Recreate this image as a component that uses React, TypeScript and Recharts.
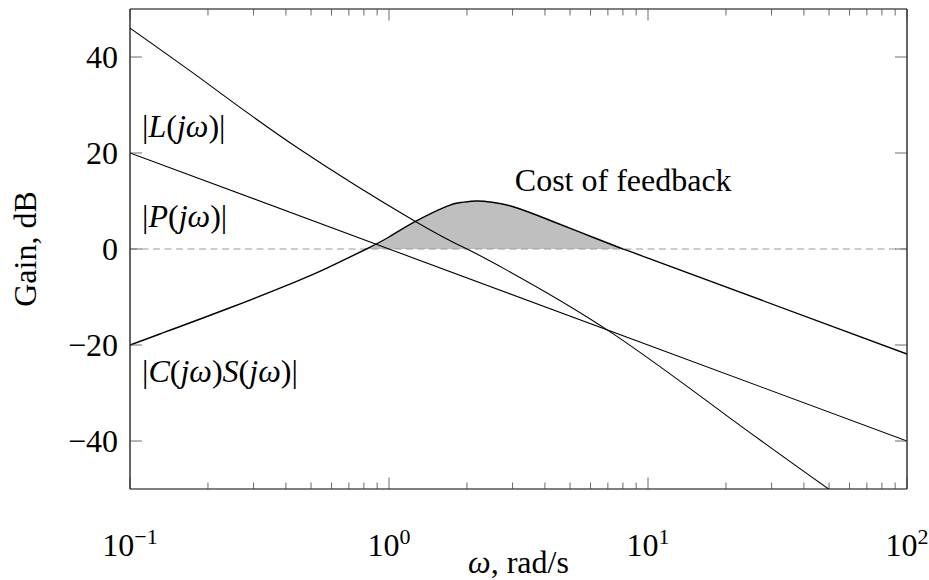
import React from 'react';
import { ComposedChart, Line, Area, XAxis, YAxis, ReferenceLine, ReferenceDot } from 'recharts';

const FONT = '"Liberation Serif", "DejaVu Serif", serif';
const FS = 32;

// frequency in rad/s, gain in dB
const omegaL = [0.1, 0.2, 0.446, 1.26, 2.0, 2.85, 7.03, 20, 50.4];
const gainL = [46, 34.4, 21, 5.8, 0, -4.4, -17, -34.6, -50.2];

const omegaP = [0.1, 1, 10, 100];
const gainP = [20, 0, -20, -40];

const omegaCS = [0.1, 0.132, 0.239, 0.433, 0.581, 0.818, 1.0, 1.26, 1.67, 1.9, 2.18, 2.5, 3.02, 4.06, 5.46, 8.0, 10, 100];
const gainCS = [-20, -17.6, -12.4, -6.9, -3.9, 0, 2.5, 5.7, 8.9, 9.7, 10.0, 9.75, 8.8, 6.25, 3.5, 0, -1.9, -21.9];

const decadeTicks = [0.1, 1, 10, 100];
const decadeExp = ['\u22121', '0', '1', '2'];
const minorTicks = [0.2, 0.3, 0.4, 0.5, 0.6, 0.7, 0.8, 0.9, 2, 3, 4, 5, 6, 7, 8, 9, 20, 30, 40, 50, 60, 70, 80, 90];
const gainTicks = [-40, -20, 0, 20, 40];

// merge the three curves into one table keyed by omega
const rows = new Map<number, any>();
const put = (w: number, key: string, v: number) => {
  const r = rows.get(w) ?? { w };
  r[key] = v;
  rows.set(w, r);
};
omegaL.forEach((w, i) => put(w, 'L', gainL[i]));
omegaP.forEach((w, i) => put(w, 'P', gainP[i]));
omegaCS.forEach((w, i) => {
  put(w, 'CS', gainCS[i]);
  if (gainCS[i] >= 0) put(w, 'cost', gainCS[i]);
});
const data = [...rows.values()].sort((a, b) => a.w - b.w);
const xTicks = [...decadeTicks, ...minorTicks].sort((a, b) => a - b);

type Part = [string, boolean];
const curveLabels: { w: number; g: number; parts: Part[] }[] = [
  { w: 0.1113, g: 23.3, parts: [['|', false], ['L', true], ['(', false], ['jω', true], [')|', false]] },
  { w: 0.1113, g: 4.6, parts: [['|', false], ['P', true], ['(', false], ['jω', true], [')|', false]] },
  {
    w: 0.1113,
    g: -27.7,
    parts: [['|', false], ['C', true], ['(', false], ['jω', true], [')', false], ['S', true], ['(', false], ['jω', true], [')|', false]],
  },
  { w: 3.06, g: 12.1, parts: [['Cost of feedback', false]] },
];

const TICK = '#444';
const fmt = (v: number) => (v < 0 ? '\u2212' + Math.abs(v) : String(v));

const BottomTick = ({ x, y, payload }: any) => {
  const i = decadeTicks.indexOf(payload.value);
  return (
    <g>
      <line x1={x} x2={x} y1={y} y2={y - (i >= 0 ? 11.5 : 6.5)} stroke={TICK} strokeWidth={0.8} />
      {i >= 0 && (
        <text x={x} y={y + 67} textAnchor="middle" fontFamily={FONT} fontSize={FS} fill="#000">
          10<tspan dy={-12} fontSize={22}>{decadeExp[i]}</tspan>
        </text>
      )}
    </g>
  );
};

const TopTick = ({ x, y, payload }: any) => {
  const major = decadeTicks.includes(payload.value);
  return <line x1={x} x2={x} y1={y} y2={y + (major ? 11.5 : 6.5)} stroke={TICK} strokeWidth={0.8} />;
};

const LeftTick = ({ x, y, payload }: any) => (
  <g>
    <line x1={x} x2={x + 12} y1={y} y2={y} stroke={TICK} strokeWidth={0.8} />
    <text x={x - 12} y={y + 11} textAnchor="end" fontFamily={FONT} fontSize={FS} fill="#000">
      {fmt(payload.value)}
    </text>
  </g>
);

const RightTick = ({ x, y }: any) => <line x1={x} x2={x - 12} y1={y} y2={y} stroke={TICK} strokeWidth={0.8} />;

const MathLabel = (parts: Part[]) => (props: any) => {
  const { x, y } = props.viewBox;
  return (
    <text x={x} y={y} fontFamily={FONT} fontSize={FS} fill="#000">
      {parts.map(([s, it], k) => (
        <tspan key={k} fontStyle={it ? 'italic' : 'normal'}>
          {s}
        </tspan>
      ))}
    </text>
  );
};

const frame = { stroke: '#000', strokeWidth: 1.2 };

export default function App() {
  return (
    <div style={{ position: 'absolute', left: 0, top: 0, background: '#fff' }}>
      <ComposedChart width={929} height={580} data={data} margin={{ top: 8, right: 21, bottom: 31, left: 70 }}>
        <XAxis
          dataKey="w"
          type="number"
          scale="log"
          domain={[0.1, 100]}
          allowDataOverflow
          ticks={xTicks}
          interval={0}
          height={60}
          tickSize={0}
          tickMargin={0}
          tickLine={false}
          axisLine={frame}
          tick={BottomTick}
          label={{
            content: (p: any) => {
              const vb = p.viewBox;
              return (
                <text x={vb.x + vb.width / 2} y={vb.y + 84} textAnchor="middle" fontFamily={FONT} fontSize={FS} fill="#000">
                  <tspan fontStyle="italic">ω</tspan>, rad/s
                </text>
              );
            },
          }}
        />
        <XAxis
          xAxisId="top"
          orientation="top"
          dataKey="w"
          type="number"
          scale="log"
          domain={[0.1, 100]}
          allowDataOverflow
          ticks={xTicks}
          interval={0}
          height={1}
          tickSize={0}
          tickMargin={0}
          tickLine={false}
          axisLine={frame}
          tick={TopTick}
        />
        <YAxis
          type="number"
          domain={[-50, 50]}
          allowDataOverflow
          ticks={gainTicks}
          interval={0}
          width={60}
          tickSize={0}
          tickMargin={0}
          tickLine={false}
          axisLine={frame}
          tick={LeftTick}
          label={{
            content: (p: any) => {
              const vb = p.viewBox;
              const cx = vb.x - 34;
              const cy = vb.y + vb.height / 2;
              return (
                <text x={cx} y={cy} transform={`rotate(-90, ${cx}, ${cy})`} textAnchor="middle" fontFamily={FONT} fontSize={FS} fill="#000">
                  Gain, dB
                </text>
              );
            },
          }}
        />
        <YAxis
          yAxisId="right"
          orientation="right"
          type="number"
          domain={[-50, 50]}
          allowDataOverflow
          ticks={gainTicks}
          interval={0}
          width={1}
          tickSize={0}
          tickMargin={0}
          tickLine={false}
          axisLine={frame}
          tick={RightTick}
        />
        <Area
          dataKey="cost"
          type="natural"
          baseValue={0}
          connectNulls
          fill="#bfbfbf"
          fillOpacity={1}
          stroke="none"
          dot={false}
          activeDot={false}
          isAnimationActive={false}
        />
        <ReferenceLine y={0} stroke="#999" strokeWidth={1.2} strokeDasharray="7 4.5" />
        <Line dataKey="P" type="linear" connectNulls stroke="#000" strokeWidth={1.1} dot={false} activeDot={false} isAnimationActive={false} />
        <Line dataKey="L" type="natural" connectNulls stroke="#000" strokeWidth={1.1} dot={false} activeDot={false} isAnimationActive={false} />
        <Line dataKey="CS" type="natural" connectNulls stroke="#000" strokeWidth={1.4} dot={false} activeDot={false} isAnimationActive={false} />
        {curveLabels.map((c, k) => (
          <ReferenceDot
            key={k}
            x={c.w}
            y={c.g}
            r={0}
            fill="none"
            stroke="none"
            ifOverflow="visible"
            label={{ content: MathLabel(c.parts) }}
          />
        ))}
      </ComposedChart>
    </div>
  );
}
